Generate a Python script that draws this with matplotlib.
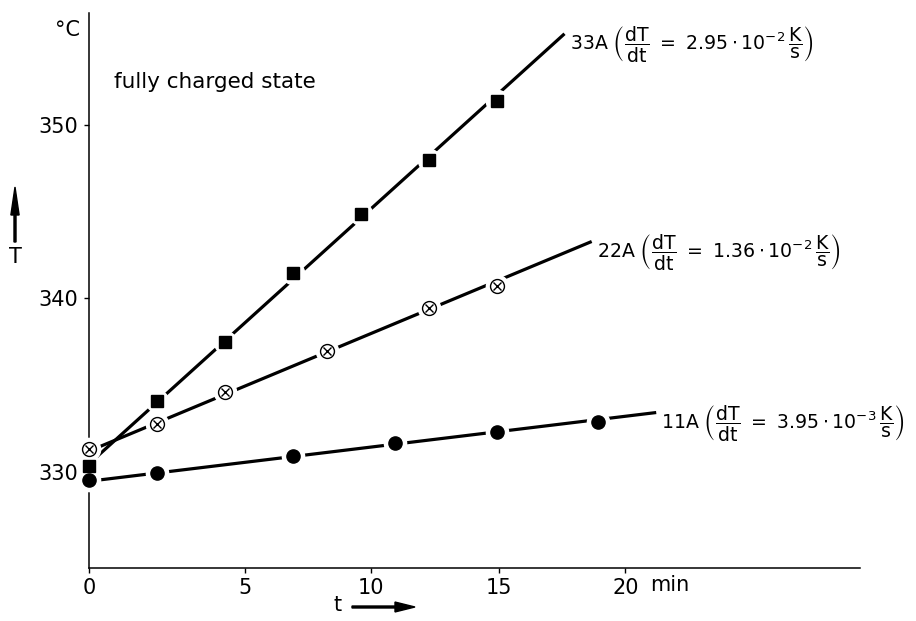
import numpy as np
import matplotlib
matplotlib.use('Agg')
import matplotlib.pyplot as plt
from matplotlib.patches import FancyArrow

plt.rcParams['font.family'] = ['DejaVu Sans']
plt.rcParams['mathtext.fontset'] = 'dejavusans'

# measured points (t in min, T in degC)
t_33 = [0, 2, 4, 6, 8, 10, 12]
T_33 = [330.35, 334.1, 337.5, 341.45, 344.85, 348.0, 351.4]
t_22 = [0, 2, 4, 7, 10, 12]
T_22 = [331.3, 332.75, 334.6, 337.0, 339.45, 340.7]
t_11 = [0, 2, 6, 9, 12, 15]
T_11 = [329.55, 329.95, 330.9, 331.65, 332.3, 332.9]

# slopes in K/s as printed on the chart
rates = [2.95e-2, 1.36e-2, 3.95e-3]
rate_text = [r'2.95\cdot{10}^{-2}', r'1.36\cdot{10}^{-2}', r'3.95\cdot{10}^{-3}']
currents = ['33A', '22A', '11A']
line_end = [14.0, 14.8, 16.7]

# tick marks as they sit on the original axis
xtick_pos = [0, 4.59, 8.29, 12.06, 15.79]
xtick_lab = ['0', '5', '10', '15', '20']
ytick_pos = [330, 340, 350]

fig = plt.figure(figsize=(9.16, 6.21), dpi=100)
ax = fig.add_axes([89/916, 53/621, 771/916, 555/621])
ax.set_xlim(0, 22.7)
ax.set_ylim(324.47, 356.45)

series = [(t_33, T_33, 's'), (t_22, T_22, 'ox'), (t_11, T_11, 'o')]
for (ts, Ts, mk), rate, rt, cur, t_end in zip(series, rates, rate_text, currents, line_end):
    ts = np.asarray(ts, float)
    Ts = np.asarray(Ts, float)
    k = rate * 60.0  # K/min
    b = np.mean(Ts - k * ts)
    tl = np.array([0.0, t_end])
    ax.plot(tl, b + k * tl, color='black', lw=2.3, solid_capstyle='butt', zorder=2)
    # white halo so the line breaks around each marker
    ax.plot(ts, Ts, ls='none', marker='o', ms=16, mfc='white', mec='white', zorder=3, clip_on=False)
    if mk == 's':
        ax.plot(ts, Ts, ls='none', marker='s', ms=8, color='black', zorder=4, clip_on=False)
    elif mk == 'o':
        ax.plot(ts, Ts, ls='none', marker='o', ms=9.5, color='black', zorder=4, clip_on=False)
    else:
        ax.plot(ts, Ts, ls='none', marker='o', ms=10, mfc='white', mec='black', mew=1.0,
                zorder=4, clip_on=False)
        ax.plot(ts, Ts, ls='none', marker='x', ms=5.5, color='black', mew=1.0, zorder=5,
                clip_on=False)
    label = (cur + r' $\left(\dfrac{\mathrm{dT}}{\mathrm{dt}}\ =\ ' + rt +
             r'\,\dfrac{\mathrm{K}}{\mathrm{s}}\right)$')
    ax.text(t_end + 0.15, b + k * t_end - 0.6, label, fontsize=13.6, va='center', ha='left')

ax.spines['top'].set_visible(False)
ax.spines['right'].set_visible(False)
ax.spines['left'].set_linewidth(1.1)
ax.spines['bottom'].set_linewidth(1.1)
ax.set_xticks(xtick_pos, xtick_lab)
ax.set_yticks(ytick_pos)
ax.tick_params(direction='out', length=3.5, width=1, labelsize=15, pad=4)

ax.text(0.033, 0.875, 'fully charged state', transform=ax.transAxes, fontsize=15.5, va='center')

fig.text(80/916, 1 - 30/621, '°C', fontsize=15, ha='right', va='center')
fig.text(650/916, 1 - 585/621, 'min', fontsize=15, ha='left', va='center')

# axis names with arrows
fig.text(15/916, 1 - 257/621, 'T', fontsize=15, ha='center', va='center')
fig.patches.append(FancyArrow(
    15/916, 1 - 242/621, 0, 55/621, width=0.0022, head_width=0.009, head_length=28/621,
    length_includes_head=True, color='black', transform=fig.transFigure))
fig.text(338/916, 1 - 605/621, 't', fontsize=15, ha='center', va='center')
fig.patches.append(FancyArrow(
    352/916, 1 - 607/621, 63/916, 0, width=0.0032, head_width=0.016, head_length=20/916,
    length_includes_head=True, color='black', transform=fig.transFigure))

fig.savefig('out.png', dpi=100)
